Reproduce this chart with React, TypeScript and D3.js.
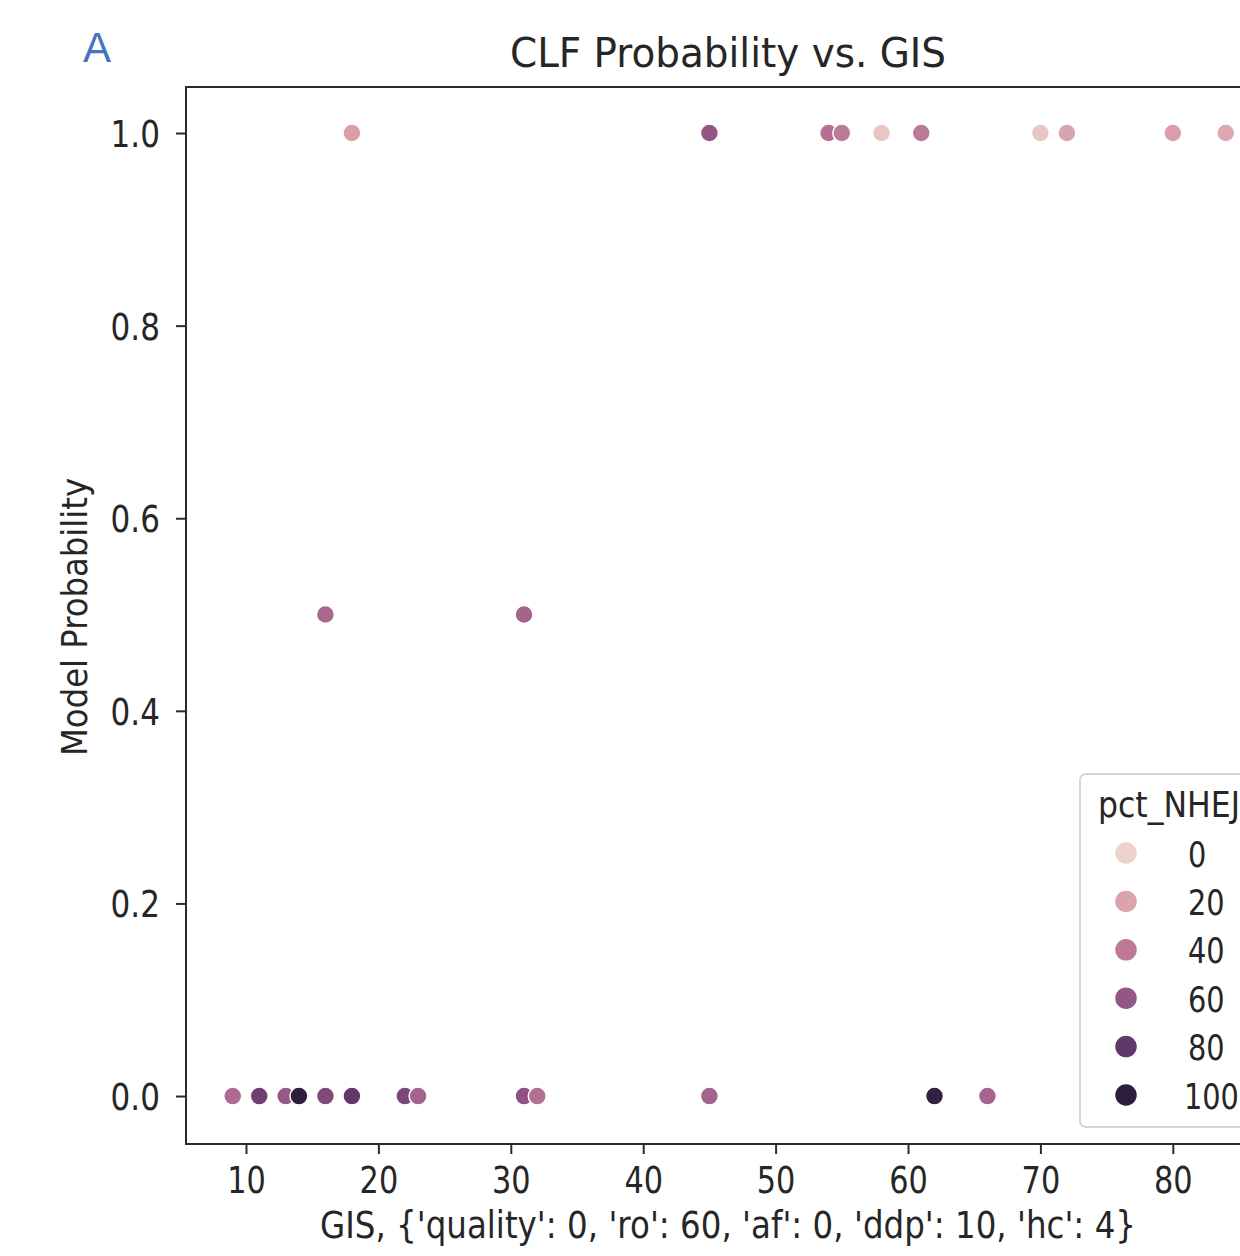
import React, { useEffect, useRef } from "react";
import * as d3 from "d3";

// GIS score, model probability and pct_NHEJ (hue)
const gis = [9, 11, 13, 14, 16, 16, 18, 18, 22, 23, 31, 31, 32, 45, 45, 54, 55, 58, 61, 62, 66, 70, 72, 80, 84];
const prob = [0, 0, 0, 0, 0.5, 0, 1, 0, 0, 0, 0.5, 0, 0, 1, 0, 1, 1, 1, 1, 0, 0, 1, 1, 1, 1];
const pctNhej = [48, 75, 58, 100, 50, 68, 22, 80, 70, 52, 52, 62, 45, 60, 52, 45, 40, 5, 40, 98, 52, 5, 20, 22, 18];

const xTicks = [10, 20, 30, 40, 50, 60, 70, 80];
const yTicks = [0, 0.2, 0.4, 0.6, 0.8, 1.0];
const legendLevels = [0, 20, 40, 60, 80, 100];

const xLim = [5.47, 87.34];
const yLim = [-0.0498, 1.0478];

const title = "CLF Probability vs. GIS";
const xLabel = "GIS, {'quality': 0, 'ro': 60, 'af': 0, 'ddp': 10, 'hc': 4}";
const yLabel = "Model Probability";
const legendTitle = "pct_NHEJ";

// seaborn default cubehelix (start 0, rot .4, hue .8, light .85, dark .15)
function cubehelix(t: number) {
  const x = 0.85 - 0.7 * t;
  const a = (0.8 * x * (1 - x)) / 2;
  const phi = 2 * Math.PI * (0.4 * x);
  const c = Math.cos(phi);
  const s = Math.sin(phi);
  const clip = (v: number) => Math.round(Math.max(0, Math.min(1, v)) * 255);
  const r = clip(x + a * (-0.14861 * c + 1.78277 * s));
  const g = clip(x + a * (-0.29227 * c - 0.90649 * s));
  const b = clip(x + a * (1.97294 * c));
  return `rgb(${r},${g},${b})`;
}

const FONT = "'DejaVu Sans', sans-serif";
const INK = "#262626";

export default function App() {
  const ref = useRef<SVGSVGElement>(null);

  useEffect(() => {
    const svg = d3.select(ref.current);
    svg.selectAll("*").remove();

    const left = 186, right = 1270, top = 87, bottom = 1144;
    const x = d3.scaleLinear().domain(xLim).range([left, right]);
    const y = d3.scaleLinear().domain(yLim).range([bottom, top]);
    const hue = d3.scaleLinear().domain([0, 100]).range([0, 1]);

    svg.append("rect").attr("width", 1240).attr("height", 1256).attr("fill", "#fff");

    // panel letter
    svg.append("text").attr("x", 83).attr("y", 62)
      .attr("font-family", "'Liberation Sans', Arial, sans-serif")
      .attr("font-size", 42).attr("fill", "#4472C4").text("A");

    // title
    svg.append("text").attr("x", 728).attr("y", 67)
      .attr("text-anchor", "middle").attr("font-family", FONT)
      .attr("font-size", 40).attr("fill", INK)
      .attr("textLength", 436).attr("lengthAdjust", "spacingAndGlyphs")
      .text(title);

    // points
    const idx = d3.range(gis.length);
    svg.append("g").selectAll("circle").data(idx).enter().append("circle")
      .attr("cx", (i) => x(gis[i]))
      .attr("cy", (i) => y(prob[i]))
      .attr("r", 9)
      .attr("fill", (i) => cubehelix(hue(pctNhej[i])))
      .attr("stroke", "#fff").attr("stroke-width", 1.5);

    // spines
    const spine = svg.append("g").attr("stroke", "#2b2b2b").attr("stroke-width", 2).attr("fill", "none");
    spine.append("line").attr("x1", left).attr("x2", left).attr("y1", top - 1).attr("y2", bottom + 1);
    spine.append("line").attr("x1", left).attr("x2", right).attr("y1", top).attr("y2", top);
    spine.append("line").attr("x1", left).attr("x2", right).attr("y1", bottom).attr("y2", bottom);

    // x axis
    const xa = svg.append("g").attr("transform", `translate(0,${bottom})`)
      .call(d3.axisBottom(x).tickValues(xTicks).tickSize(10).tickPadding(0).tickFormat(d3.format("d")));
    xa.select(".domain").remove();
    xa.selectAll(".tick line").attr("stroke", "#2b2b2b").attr("stroke-width", 2);
    xa.selectAll(".tick text")
      .attr("font-family", FONT).attr("font-size", 37).attr("fill", INK)
      .attr("y", 0).attr("dy", 0)
      .attr("transform", "translate(0,49) scale(0.82,1)");

    // y axis
    const ya = svg.append("g").attr("transform", `translate(${left},0)`)
      .call(d3.axisLeft(y).tickValues(yTicks).tickSize(10).tickFormat(d3.format(".1f")));
    ya.select(".domain").remove();
    ya.selectAll(".tick line").attr("stroke", "#2b2b2b").attr("stroke-width", 2);
    ya.selectAll(".tick text")
      .attr("font-family", FONT).attr("font-size", 37).attr("fill", INK)
      .attr("x", 0).attr("dy", 0)
      .attr("transform", "translate(-26,13.5) scale(0.84,1)");

    // axis labels
    svg.append("text").attr("x", 728).attr("y", 1238)
      .attr("text-anchor", "middle").attr("font-family", FONT)
      .attr("font-size", 37).attr("fill", INK)
      .attr("textLength", 816).attr("lengthAdjust", "spacingAndGlyphs")
      .text(xLabel);
    svg.append("text")
      .attr("transform", "translate(87,617) rotate(-90)")
      .attr("text-anchor", "middle").attr("font-family", FONT)
      .attr("font-size", 35).attr("fill", INK)
      .attr("textLength", 278).attr("lengthAdjust", "spacingAndGlyphs")
      .text(yLabel);

    // legend
    const lg = svg.append("g");
    lg.append("rect").attr("x", 1080).attr("y", 774).attr("width", 200).attr("height", 353)
      .attr("rx", 6).attr("fill", "#fff").attr("fill-opacity", 0.8)
      .attr("stroke", "#d6d6d6").attr("stroke-width", 2);
    lg.append("text").attr("x", 1098).attr("y", 817)
      .attr("font-family", FONT).attr("font-size", 36).attr("fill", INK)
      .attr("textLength", 142).attr("lengthAdjust", "spacingAndGlyphs")
      .text(legendTitle);
    const ly = d3.scaleLinear().domain([0, 100]).range([853, 1095]);
    const items = lg.selectAll("g.item").data(legendLevels).enter().append("g").attr("class", "item");
    items.append("circle").attr("cx", 1126).attr("cy", (d) => ly(d)).attr("r", 11.5)
      .attr("fill", (d) => cubehelix(hue(d))).attr("stroke", "#fff").attr("stroke-width", 1.5);
    items.append("text")
      .attr("transform", (d) => `translate(${d === 100 ? 1184 : 1188},${ly(d) + 13.5}) scale(0.8,1)`)
      .attr("font-family", FONT).attr("font-size", 36).attr("fill", INK)
      .text((d) => String(d));
  }, []);

  return (
    <svg
      ref={ref}
      width={1240}
      height={1256}
      style={{ position: "absolute", left: 0, top: 0, display: "block" }}
    />
  );
}
